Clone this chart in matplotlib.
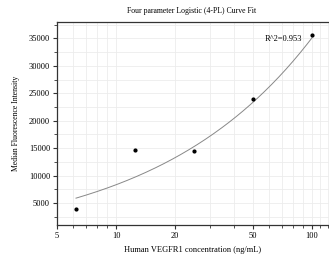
import numpy as np
import matplotlib
matplotlib.use("Agg")
import matplotlib.pyplot as plt
from matplotlib.ticker import FixedLocator, NullFormatter, MultipleLocator

plt.rcParams['font.family'] = ['Liberation Serif', 'DejaVu Serif']

# Data
conc = [6.25, 12.5, 25, 50, 100]
mfi = [3900, 14600, 14400, 24000, 35600]
# 4PL parameters (bottom, slope, inflection, top)
A, B, C, D = -2550.0, 0.54, 1.0e7, 18.92e6
r2_text = "R^2=0.953"
title = "Four parameter Logistic (4-PL) Curve Fit"
xlabel = "Human VEGFR1 concentration (ng/mL)"
ylabel = "Median Fluorescence Intensity"
xticks = [5, 10, 20, 50, 100]
yticks = [5000, 10000, 15000, 20000, 25000, 30000, 35000]

fig = plt.figure(figsize=(3.29, 2.62), dpi=100)
ax = fig.add_axes([57/329, 1-225/262, 1.0 - 57/329, (225-22)/262])

xs = np.logspace(np.log10(conc[0]), np.log10(conc[-1]), 200)
ys = D + (A - D) / (1 + (xs / C) ** B)
ax.plot(xs, ys, color='#888888', lw=0.7, zorder=2)
ax.plot(conc, mfi, 'o', color='black', ms=2.0, zorder=3)

ax.set_xscale('log')
ax.set_xlim(5, 122)
ax.set_ylim(1000, 38000)
ax.xaxis.set_major_locator(FixedLocator(xticks))
ax.set_xticklabels([str(t) for t in xticks])
ax.xaxis.set_minor_locator(FixedLocator([6, 7, 8, 9, 30, 40, 60, 70, 80, 90, 110, 120]))
ax.xaxis.set_minor_formatter(NullFormatter())
ax.yaxis.set_major_locator(FixedLocator(yticks))
ax.yaxis.set_minor_locator(MultipleLocator(2500))

ax.grid(True, which='both', color='#ececec', lw=0.6, zorder=0)
ax.set_axisbelow(True)

for s in ['left', 'bottom', 'top']:
    ax.spines[s].set_color('#333333')
    ax.spines[s].set_linewidth(0.9)
ax.spines['right'].set_visible(False)

ax.tick_params(axis='both', which='major', labelsize=6, length=3, width=0.8, color='#333333', pad=2)
ax.tick_params(axis='both', which='minor', length=2, width=0.6, color='#333333')

ax.set_xlabel(xlabel, fontsize=6, labelpad=4)
ax.set_ylabel(ylabel, fontsize=5.6, labelpad=6)
fig.text(192/329, 1-11/262, title, ha='center', va='center', fontsize=5.6)
ax.text(89, 34900, r2_text, ha='right', va='center', fontsize=6)

fig.savefig('out.png', dpi=100)
